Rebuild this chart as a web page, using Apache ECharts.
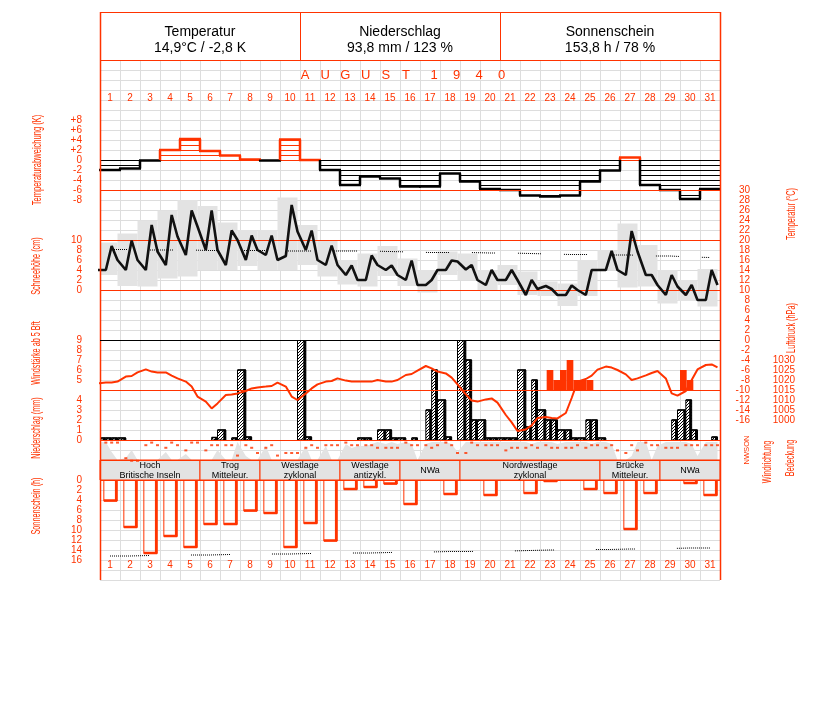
<!DOCTYPE html>
<html>
<head>
<meta charset="utf-8">
<script src="https://cdn.jsdelivr.net/npm/echarts@6.0.0/dist/echarts.min.js"></script>
<style>html,body{margin:0;padding:0;background:#fff;}#chart{width:827px;height:702px;}</style>
</head>
<body>
<div id="chart"></div>
<script>
// ================= DATA =================
const dayLabels = ['1','2','3','4','5','6','7','8','9','10','11','12','13','14','15','16','17','18','19','20','21','22','23','24','25','26','27','28','29','30','31'];
const headerTitles = ['Temperatur', 'Niederschlag', 'Sonnenschein'];
const headerValues = ['14,9°C / -2,8 K', '93,8 mm / 123 %', '153,8 h / 78 %'];
const monthTitle = 'AUGUST';
const yearTitle = '1940';

// daily temperature deviation (K)
const tempDeviation = [-2,-1.7,-0.1,2,4.2,1.8,0.9,0.1,-0.1,4.1,0,-2,-5,-3.3,-3.7,-5.3,-5.3,-2.7,-4.3,-5.8,-6,-7.1,-7.3,-7.1,-4.3,-2.1,0.5,-5,-6,-7.8,-5.8];

// temperature at 7h, 14h, 21h (°C)
const tempPrevEvening = 14;
const temp07 = [14,14,14,15,17,18,15,16,17,16.8,18,15,13,12,14,12,11,14,14.1,11,12,9,10.8,9,9,14,13,13,9,9,8];
const temp14 = [18.8,19.9,23,25,25.9,25.9,21.9,20.9,20.9,27,21.9,18.9,14.9,16.9,14.9,15.9,12,15.9,15,14,14,12,10.2,10.9,14,17.8,21.8,13,13,11,14];
const temp21 = [16,16,17.7,20.7,22.7,18,20,18,16,21.7,16,15,12,15,13,11,14,15.7,12,12,12,10.2,9,10,14,14,17.7,11,10.7,8,11];
// daily extremes (°C)
const tempMax = [19.5,21.3,23.9,25.9,28,26.8,23.5,22,22,28.5,23,19.9,16,17.3,18.8,16.3,14,17.7,17.3,14,15,13.7,11.7,11.3,16,18,23.3,19,14,12,14.2];
const tempMin = [13,10.8,10.7,12.3,12.7,14,14,14.8,14,14,15,12.7,11.1,10.7,12.8,10.8,9.5,13,12,10,11,9,8.8,6.8,8.8,14,10.5,10.7,7.3,7.8,6.7];
// long-term mean temperature (°C)
const tempNormal = [18.1,18.1,18.0,18.0,18.0,17.9,17.9,17.9,17.9,17.8,17.8,17.8,17.8,17.8,17.7,17.6,17.5,17.5,17.5,17.4,17.4,17.3,17.2,17.1,17.1,17.0,17.0,16.8,16.8,16.6,16.5];

// air pressure at 7h, 14h, 21h (hPa)
const pressurePrevEvening = 1018.3;
const pressure07 = [1018.7,1021.7,1025.3,1023.8,1019.2,1009.2,1012.5,1014.5,1016.7,1016.7,1013.3,1019.2,1019.7,1019.2,1019.2,1022.5,1027,1023.3,1012.8,1010.3,1002.5,995.3,1001.5,1003.5,1020.5,1026.7,1022.8,1022.3,1020.8,1014.5,1027.5];
const pressure14 = [1018.8,1022,1024.2,1022.2,1016.7,1005.8,1012.8,1015.8,1017,1011.7,1015.8,1019.5,1019.2,1019.2,1019.2,1023,1025.8,1021.2,1009.7,1010.8,998.8,997.3,1001,1011,1022.2,1026.2,1020,1023.5,1013.3,1020,1027.8];
const pressure21 = [1019.2,1023.8,1023.8,1020.8,1011.7,1008.3,1013.3,1016.3,1018.7,1010,1017.8,1020.8,1019.2,1020,1020,1024.7,1024.2,1017.8,1009.2,1008.7,994.5,1001,1000.8,1019.2,1025.2,1025,1020.8,1024.5,1012.2,1025.3,1026.3];

// precipitation (mm): 21h-7h, 7h-14h, 14h-21h
const precipNight     = [0.2,0.2,0,0,0,0,1.0,7,0,0,10.5,0,0,0.2,1.0,0.2,0,4,10.5,2,0.2,7,3,1,0.2,0.2,0,0,0,3,0];
const precipMorning   = [0.2,0,0,0,0,0,0,0.3,0,0,0.3,0,0,0.2,1.0,0,3,0.3,8,0.2,0.2,1.3,2,1,2,0,0,0,0,4,0];
const precipAfternoon = [0.2,0,0,0,0,0.25,0.2,0,0,0,0,0,0,0,0.2,0.2,7,0,2,0.2,0.2,6,2,0.2,2,0,0,0,2,1,0.3];

// wind force from 5 Bft (per third of day)
const windMorning   = [null,null,null,null,null,null,null,null,null,null,null,null,null,null,null,null,null,null,null,null,null,null,null,6,5,null,null,null,null,6,null];
const windMidday    = [null,null,null,null,null,null,null,null,null,null,null,null,null,null,null,null,null,null,null,null,null,null,6,7,5,null,null,null,null,5,null];
const windEvening   = [null,null,null,null,null,null,null,null,null,null,null,null,null,null,null,null,null,null,null,null,null,null,5,5,null,null,null,null,null,null,null];

// wind direction at 7h, 14h, 21h
const compass = ['N','NO','O','SO','S','SW','W','NW'];
const windDir07 = ['N','W','NO','O','SO','SO','NO','NO','O','S','O','NO','N','NO','O','N','NO','N','S','NO','SO','O','NO','O','O','O','S','N','O','NO','NO'];
const windDir14 = ['N','NW','N','N','N','NO','NO','O','NO','S','NO','NO','NO','NO','O','NO','O','NO','N','NO','O','NO','O','O','NO','NO','NO','NO','O','NO','NO'];
const windDir21 = ['N','NW','NO','NO','N','NO','SW','S','SW','S','O','NO','NO','O','O','NO','NO','S','NO','NO','O','O','O','NO','NO','SO','SO','NO','O','NO','NO'];

// cloud cover (tenths) at 7h, 14h, 21h
const cloudPrevEvening = 9;
const cloud07 = [9,1,0,4,3,0,0,2,7,0,7,7,8,7,8,9,8,9,9,9,9,9,9,9,9,9,0,9,9,9,9];
const cloud14 = [4,5,0,0,0,0,0,0,0,0,0,0,6,8,9,8,9,8,9,9,9,8,9,9,8,8,2,0,9,8,9];
const cloud21 = [0,0,0,0,0,5,9,0,0,0,0,0,7,9,8,0,9,4,9,9,9,9,8,9,9,0,9,7,9,2,9];

// weather types
const weatherStart = [1,6,9,13,16,19,26,29];
const weatherEnd   = [5,8,12,15,18,25,28,31];
const weatherName  = ['Hoch\nBritische Inseln','Trog\nMitteleur.','Westlage\nzyklonal','Westlage\nantizykl.','NWa','Nordwestlage\nzyklonal','Brücke\nMitteleur.','NWa'];

// sunshine (h) and astronomically possible sunshine (h)
const sunshine = [4.2,9.5,14.7,11.3,13.5,8.9,8.9,6.2,6.7,13.5,8.7,12.2,1.9,1.5,0.8,4.9,0,2.9,0,3.1,0,2.7,0.3,0,1.9,2.7,9.9,2.7,0,0.7,3.1];
const sunshinePossible = [15.2,15.2,15.1,15.1,15.0,15.0,14.9,14.9,14.8,14.8,14.7,14.7,14.6,14.6,14.5,14.4,14.4,14.3,14.3,14.2,14.2,14.1,14.0,14.0,13.9,13.9,13.8,13.8,13.7,13.6,13.6];

// ================= STYLE =================
const RED = '#ff3300', BLACK = '#000000', GREY = '#e3e3e3', GRIDC = '#dddddd';
const FONT = "'Liberation Sans', Arial, sans-serif";
const H7 = 7/24, H14 = 14/24, H21 = 21/24, HPREV = -3/24;

const hc = document.createElement('canvas'); hc.width = 3; hc.height = 3;
const hx = hc.getContext('2d'); hx.fillStyle = '#fff'; hx.fillRect(0,0,3,3); hx.fillStyle = '#000';
hx.fillRect(0,2,1,1); hx.fillRect(1,1,1,1); hx.fillRect(2,0,1,1);
const HATCH = {image: hc, repeat: 'repeat'};

// ================= BUILD =================
const n = dayLabels.length;
function obsSeries(prev, a, b, c) {
  const out = prev == null ? [] : [[HPREV, prev]];
  for (let i = 0; i < n; i++) out.push([i + H7, a[i]], [i + H14, b[i]], [i + H21, c[i]]);
  return out;
}
const devData = tempDeviation.map((v, i) => [i + 1, v, i > 0 ? tempDeviation[i-1] : v]);
const boxData = tempMax.map((v, i) => [i + 1, v, tempMin[i]]);
const normalData = tempNormal.map((v, i) => [i + 0.5, v]);
const precipData = [];
for (let i = 0; i < n; i++) {
  precipData.push([i + HPREV, i + H7, precipNight[i]]);
  precipData.push([i + H7, i + H14, precipMorning[i]]);
  precipData.push([i + H14, i + H21, precipAfternoon[i]]);
}
const windData = [];
for (let i = 0; i < n; i++) {
  [windMorning, windMidday, windEvening].forEach((arr, k) => {
    if (arr[i] != null) windData.push([i + k/3, i + (k+1)/3, arr[i]]);
  });
}
const dirData = [];
for (let i = 0; i < n; i++) {
  dirData.push([i + H7, compass.indexOf(windDir07[i])], [i + H14, compass.indexOf(windDir14[i])], [i + H21, compass.indexOf(windDir21[i])]);
}
const bandData = weatherStart.map((s, i) => [s, weatherEnd[i], 0.5]);
const sunData = sunshine.map((v, i) => [i + 1, v]);
const sunMaxData = sunshinePossible.map((v, i) => [i + 0.5, v]);

function ln(x1, y1, x2, y2, c, w) { return {type: 'line', shape: {x1, y1, x2, y2}, style: {stroke: c, lineWidth: w}}; }

function renderDev(params, api) {
  const d = api.value(0), v = api.value(1), p = api.value(2);
  const xa = api.coord([d - 1, 0])[0], xb = api.coord([d, 0])[0];
  const yOf = k => api.coord([d, k])[1];
  const col = v < 0 ? BLACK : RED;
  const sg = v < 0 ? -1 : 1;
  const ch = [];
  const m = Math.floor(Math.abs(v) + 1e-9);
  for (let k = 0; k <= m; k++) { const y = Math.round(yOf(sg * k)) + 0.5; ch.push(ln(xa, y, xb, y, col, 1)); }
  const yv = yOf(v);
  ch.push(ln(xa - 1, yv, xb + 1, yv, col, 2.5));
  if (p !== v) {
    const hi = Math.max(p, v), lo = Math.min(p, v);
    if (hi > 0) ch.push(ln(xa, yOf(Math.max(lo, 0)), xa, yOf(hi), RED, 2.5));
    if (lo < 0) ch.push(ln(xa, yOf(Math.min(hi, 0)), xa, yOf(lo), BLACK, 2.5));
  }
  return {type: 'group', children: ch};
}
function renderBox(params, api) {
  const d = api.value(0);
  const a = api.coord([d - 1 + HPREV, api.value(1)]), b = api.coord([d - 1 + H21, api.value(2)]);
  return {type: 'rect', shape: {x: a[0], y: a[1], width: b[0] - a[0], height: b[1] - a[1]}, style: {fill: GREY}};
}
function renderPrecip(params, api) {
  const v = api.value(2);
  if (!(v > 0)) return null;
  const a = api.coord([api.value(0), 0]), b = api.coord([api.value(1), v]);
  const x = a[0], w = b[0] - a[0], y = b[1], h = a[1] - b[1];
  return {type: 'group', children: [
    {type: 'rect', shape: {x, y, width: w, height: h}, style: {fill: HATCH, stroke: BLACK, lineWidth: 1}},
    {type: 'rect', shape: {x: x + w - 2.5, y, width: 2.5, height: h}, style: {fill: BLACK}},
    ln(x, y, x + w, y, BLACK, 1.5)
  ]};
}
function renderWind(params, api) {
  const a = api.coord([api.value(0), 4]), b = api.coord([api.value(1), api.value(2)]);
  return {type: 'rect', shape: {x: a[0], y: b[1], width: b[0] - a[0], height: a[1] - b[1]}, style: {fill: RED}};
}
function renderBand(params, api) {
  const a = api.coord([api.value(0) - 1, 1]), b = api.coord([api.value(1), 0]);
  return {type: 'group', children: [
    {type: 'rect', shape: {x: a[0], y: a[1], width: b[0] - a[0], height: b[1] - a[1]}, style: {fill: GREY, stroke: RED, lineWidth: 1}},
    {type: 'text', style: {text: weatherName[params.dataIndex], x: (a[0] + b[0]) / 2, y: (a[1] + b[1]) / 2 + 0.5,
      align: 'center', verticalAlign: 'middle', textAlign: 'center', textVerticalAlign: 'middle',
      fill: '#000', font: '9px ' + FONT, lineHeight: 10}}
  ]};
}
function renderSun(params, api) {
  const d = api.value(0), h = api.value(1);
  if (!(h > 0)) return null;
  const a = api.coord([d - 1 + 1/6, 0]), b = api.coord([d - 1 + 5/6, h]);
  const x = a[0] + 0.5, y = a[1], w = b[0] - a[0], hh = b[1] - a[1];
  return {type: 'group', children: [
    {type: 'rect', shape: {x, y, width: w, height: hh}, style: {fill: 'none', stroke: RED, lineWidth: 1}},
    ln(x + w - 1, y, x + w - 1, y + hh, RED, 2.5),
    ln(x, y + hh - 0.5, x + w, y + hh - 0.5, RED, 2.5)
  ]};
}

const L = 100, W = 620;
const grids = [
  {top: 60, height: 520},   // 0 background grid
  {top: 120, height: 80},   // 1 deviation
  {top: 190, height: 230},  // 2 temperature
  {top: 340, height: 100},  // 3 precipitation / wind force / pressure
  {top: 440, height: 20},   // 4 wind direction / cloud cover
  {top: 460, height: 20},   // 5 weather type
  {top: 480, height: 80},   // 6 sunshine
  {top: 104, height: 1},    // 7 top day labels
  {top: 559, height: 1}     // 8 bottom day labels
].map(g => Object.assign({left: L, width: W, outerBoundsMode: 'none', containLabel: false}, g));

const hidden = {axisLine: {show: false}, axisTick: {show: false}, axisLabel: {show: false}, splitLine: {show: false}};
const xAxes = [];
for (let g = 0; g <= 6; g++) {
  xAxes.push(Object.assign({type: 'value', gridIndex: g, min: 0, max: n, interval: 1}, hidden,
    g === 0 ? {splitLine: {show: true, lineStyle: {color: GRIDC, width: 1}}} : {}));
}
const dayLabelStyle = {show: true, color: RED, fontSize: 10, fontFamily: FONT, interval: 0};
xAxes.push({type: 'category', gridIndex: 7, data: dayLabels, position: 'top', axisLine: {show: false}, axisTick: {show: false},
  axisLabel: Object.assign({margin: 1}, dayLabelStyle), splitLine: {show: false}});
xAxes.push({type: 'category', gridIndex: 8, data: dayLabels, position: 'bottom', axisLine: {show: false}, axisTick: {show: false},
  axisLabel: Object.assign({margin: 0}, dayLabelStyle), splitLine: {show: false}});

const lbl = (extra) => Object.assign({show: true, color: RED, fontSize: 10, fontFamily: FONT}, extra);
const yAxes = [
  Object.assign({type: 'value', gridIndex: 0, min: 0, max: 52, interval: 1}, hidden, {splitLine: {show: true, lineStyle: {color: GRIDC, width: 1}}}), //0
  Object.assign({type: 'value', gridIndex: 1, min: -8, max: 8, interval: 2, position: 'left'}, hidden,
    {axisLabel: lbl({margin: 18, formatter: v => (v > 0 ? '+' + v : '' + v)})}), //1
  Object.assign({type: 'value', gridIndex: 2, min: -16, max: 30, interval: 2, position: 'right'}, hidden,
    {axisLabel: lbl({margin: 30, align: 'right'})}), //2 temperature
  Object.assign({type: 'value', gridIndex: 2, min: -26, max: 20, interval: 2, position: 'left'}, hidden,
    {axisLabel: lbl({margin: 18, formatter: v => (v >= 0 && v <= 10 ? '' + v : '')})}), //3 snow
  Object.assign({type: 'value', gridIndex: 2, min: 1000, max: 1115, interval: 5, position: 'right'}, hidden,
    {axisLabel: lbl({margin: 75, align: 'right', formatter: v => (v <= 1030 ? '' + v : '')})}), //4 pressure labels
  Object.assign({type: 'value', gridIndex: 3, min: 0, max: 10, interval: 1, position: 'left'}, hidden,
    {axisLabel: lbl({margin: 18, formatter: v => (v <= 4 ? '' + v : '')})}), //5 precip
  Object.assign({type: 'value', gridIndex: 3, min: -1, max: 9, interval: 1, position: 'left'}, hidden,
    {axisLabel: lbl({margin: 18, formatter: v => (v >= 5 ? '' + v : '')})}), //6 wind force
  Object.assign({type: 'value', gridIndex: 4, min: -1, max: 6.7, inverse: true}, hidden), //7 wind dir
  Object.assign({type: 'value', gridIndex: 4, min: 0, max: 10}, hidden), //8 cloud
  Object.assign({type: 'value', gridIndex: 5, min: 0, max: 1}, hidden), //9 band
  Object.assign({type: 'value', gridIndex: 6, min: 0, max: 16, interval: 2, inverse: true, position: 'left'}, hidden,
    {axisLabel: lbl({margin: 18})}), //10 sunshine
  Object.assign({type: 'value', gridIndex: 7}, hidden), //11
  Object.assign({type: 'value', gridIndex: 8}, hidden), //12
  Object.assign({type: 'value', gridIndex: 3, min: 990, max: 1040}, hidden) //13 pressure line
];

function dots(on, gap) { const a = []; for (let i = 0; i < on; i++) a.push(1, 1); a[a.length - 1] = gap; return a; }

const series = [
  {type: 'custom', name: 'Temperaturabweichung', xAxisIndex: 1, yAxisIndex: 1, renderItem: renderDev, data: devData, z: 4,
   markLine: {silent: true, symbol: 'none', label: {show: false}, lineStyle: {color: RED, width: 1, type: 'solid'}, data: [{yAxis: -6}]}},
  {type: 'custom', name: 'Extremwerte', xAxisIndex: 2, yAxisIndex: 2, renderItem: renderBox, data: boxData, clip: true, z: 2},
  {type: 'line', name: 'Normal', xAxisIndex: 2, yAxisIndex: 2, data: normalData, showSymbol: false, z: 3,
   lineStyle: {color: '#000', width: 1, type: dots(12, 23), dashOffset: 6}},
  {type: 'line', name: 'Temperatur', xAxisIndex: 2, yAxisIndex: 2, data: obsSeries(tempPrevEvening, temp07, temp14, temp21),
   showSymbol: false, clip: true, z: 5, lineStyle: {color: '#111', width: 2.6},
   markLine: {silent: true, symbol: 'none', label: {show: false}, lineStyle: {color: RED, width: 1, type: 'solid'}, data: [{yAxis: 20}, {yAxis: 10}, {yAxis: -10}]}},
  {type: 'custom', name: 'Niederschlag', xAxisIndex: 3, yAxisIndex: 5, renderItem: renderPrecip, data: precipData, clip: true, z: 3},
  {type: 'custom', name: 'Wind', xAxisIndex: 3, yAxisIndex: 6, renderItem: renderWind, data: windData, z: 4},
  {type: 'line', name: 'Luftdruck', xAxisIndex: 3, yAxisIndex: 13, data: obsSeries(pressurePrevEvening, pressure07, pressure14, pressure21),
   showSymbol: false, clip: true, z: 6, lineStyle: {color: RED, width: 2}},
  {type: 'line', name: 'Bedeckung', xAxisIndex: 4, yAxisIndex: 8, data: obsSeries(cloudPrevEvening, cloud07, cloud14, cloud21),
   showSymbol: false, clip: true, z: 2, lineStyle: {width: 0, opacity: 0}, areaStyle: {color: GREY, opacity: 1}},
  {type: 'scatter', name: 'Windrichtung', xAxisIndex: 4, yAxisIndex: 7, data: dirData, symbol: 'rect', symbolSize: [3, 2],
   itemStyle: {color: RED}, clip: false, z: 5},
  {type: 'custom', name: 'Wetterlage', xAxisIndex: 5, yAxisIndex: 9, renderItem: renderBand, data: bandData, z: 5},
  {type: 'custom', name: 'Sonnenschein', xAxisIndex: 6, yAxisIndex: 10, renderItem: renderSun, data: sunData, z: 4},
  {type: 'line', name: 'Sonne möglich', xAxisIndex: 6, yAxisIndex: 10, data: sunMaxData, showSymbol: false, z: 3,
   lineStyle: {color: '#000', width: 1, type: dots(20, 42), dashOffset: 0}}
];

// ----- frame / text graphics -----
const gfx = [];
const gl = (x1, y1, x2, y2, c, w, z) => gfx.push({type: 'line', z: z || 50, silent: true, shape: {x1, y1, x2, y2}, style: {stroke: c, lineWidth: w}});
gl(100, 12.5, 720, 12.5, RED, 1.2);
gl(100, 60.5, 720, 60.5, RED, 1.2);
gl(100.5, 12, 100.5, 580, RED, 1.5);
gl(720.5, 12, 720.5, 580, RED, 1.5);
gl(300.5, 12, 300.5, 60, RED, 1);
gl(500.5, 12, 500.5, 60, RED, 1);
gl(100, 190.5, 720, 190.5, RED, 1);
gl(100, 340.5, 720, 340.5, BLACK, 1);
gl(100, 440.5, 720, 440.5, RED, 1.2);
gl(100, 460.5, 720, 460.5, RED, 1);
gl(100, 480.5, 720, 480.5, RED, 1);
const cellCx = [200, 400, 610];
headerTitles.forEach((t, i) => {
  gfx.push({type: 'text', z: 60, x: cellCx[i], y: 32, style: {text: t, fill: '#000', font: '14px ' + FONT, align: 'center', verticalAlign: 'middle', textAlign: 'center', textVerticalAlign: 'middle'}});
  gfx.push({type: 'text', z: 60, x: cellCx[i], y: 48, style: {text: headerValues[i], fill: '#000', font: '14px ' + FONT, align: 'center', verticalAlign: 'middle', textAlign: 'center', textVerticalAlign: 'middle'}});
});
monthTitle.split('').forEach((ch, i) => gfx.push({type: 'text', z: 60, x: 305 + i * 20.2, y: 75,
  style: {text: ch, fill: RED, font: '13px ' + FONT, align: 'center', verticalAlign: 'middle', textAlign: 'center', textVerticalAlign: 'middle'}}));
yearTitle.split('').forEach((ch, i) => gfx.push({type: 'text', z: 60, x: 434 + i * 22.5, y: 75,
  style: {text: ch, fill: RED, font: '13px ' + FONT, align: 'center', verticalAlign: 'middle', textAlign: 'center', textVerticalAlign: 'middle'}}));
const vtext = (t, x, y, size, sx) => gfx.push({type: 'text', z: 60, x, y, rotation: Math.PI / 2, scaleX: sx, scaleY: 1,
  style: {text: t, fill: RED, font: size + 'px ' + FONT, align: 'center', verticalAlign: 'middle', textAlign: 'center', textVerticalAlign: 'middle'}});
vtext('Temperaturabweichung (K)', 37, 160, 13, 0.58);
vtext('Schneehöhe (cm)', 36, 266, 13, 0.56);
vtext('Windstärke ab 5 Bft', 36, 353, 13, 0.56);
vtext('Niederschlag (mm)', 36, 428, 13, 0.56);
vtext('Sonnenschein (h)', 36, 506, 13, 0.56);
vtext('Temperatur (°C)', 791, 214, 13, 0.56);
vtext('Luftdruck (hPa)', 791, 328, 13, 0.56);
vtext('Windrichtung', 767, 462, 13, 0.56);
vtext('Bedeckung', 790, 458, 13, 0.56);
vtext('NWSON', 747, 450, 8, 0.95);

const chart = echarts.init(document.getElementById('chart'), null, {renderer: 'canvas', width: 827, height: 702});
chart.setOption({
  animation: false,
  backgroundColor: '#fff',
  grid: grids,
  xAxis: xAxes,
  yAxis: yAxes,
  series,
  graphic: gfx
});
</script>
</body>
</html>
